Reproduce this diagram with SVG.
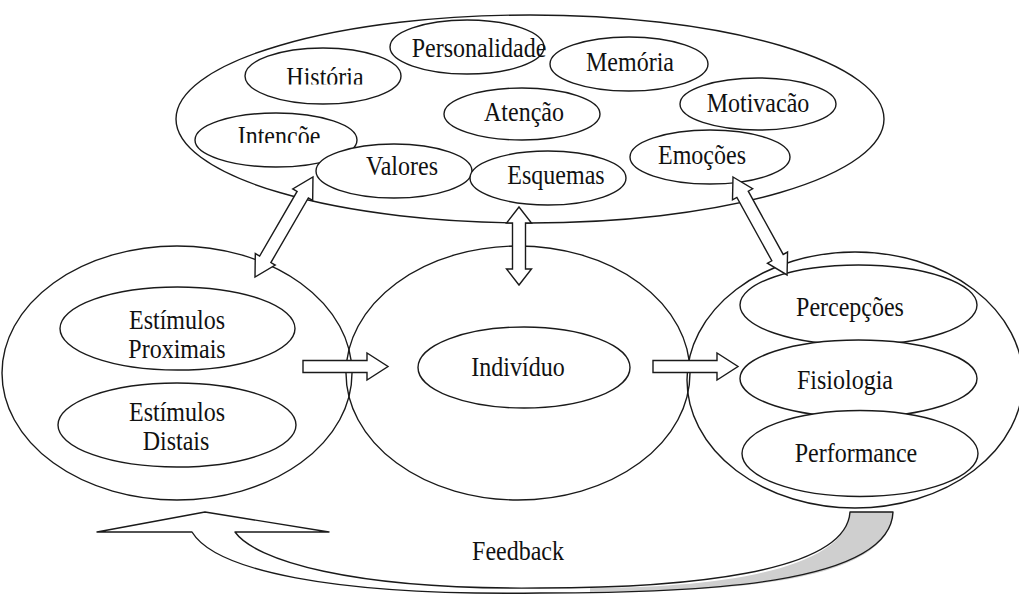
<svg xmlns="http://www.w3.org/2000/svg" width="1019" height="616" viewBox="0 0 1019 616">
  <style>
    .big { fill: none; stroke: #1a1a1a; stroke-width: 1.4; }
    .sub { fill: #ffffff; stroke: #1a1a1a; stroke-width: 1.4; }
    .lbl { font-family: "Liberation Serif", "Times New Roman", serif; font-size: 24px; fill: #111111; text-anchor: middle; }
    .blk { fill: #ffffff; stroke: #1a1a1a; stroke-width: 1.4; stroke-linejoin: miter; }
  </style>
  <defs>
    <clipPath id="clipHist"><rect x="240" y="40" width="170" height="44.5"/></clipPath>
    <clipPath id="clipInt"><rect x="190" y="110" width="170" height="33"/></clipPath>
    <!-- double-headed block arrow, drawn along +x from 0 to its length -->
    <polygon id="dbl-diag" points="0,0 20,-11.5 20,-6.5 93,-6.5 93,-11.5 113,0 93,11.5 93,6.5 20,6.5 20,11.5"/>
  </defs>

  <rect width="1019" height="616" fill="#ffffff"/>

  <!-- cognitive factors cluster -->
  <g id="fatores">
    <ellipse class="big" cx="530" cy="119" rx="354" ry="104"/>
    <g id="historia">
      <ellipse class="sub" cx="323" cy="76" rx="78" ry="28"/>
      <g clip-path="url(#clipHist)">
        <text class="lbl" transform="translate(325,86) scale(1,1.13)">História</text>
      </g>
    </g>
    <g id="personalidade">
      <ellipse class="sub" cx="467" cy="47" rx="77" ry="27"/>
      <text class="lbl" transform="translate(479,57) scale(1,1.13)">Personalidade</text>
    </g>
    <g id="memoria">
      <ellipse class="sub" cx="629" cy="64" rx="79" ry="27"/>
      <text class="lbl" transform="translate(630,71) scale(1,1.13)">Memória</text>
    </g>
    <g id="atencao">
      <ellipse class="sub" cx="522" cy="114" rx="78" ry="26"/>
      <text class="lbl" transform="translate(524,121) scale(1,1.13)">Atenção</text>
    </g>
    <g id="motivacao">
      <ellipse class="sub" cx="758" cy="104" rx="78" ry="26"/>
      <text class="lbl" transform="translate(758,112) scale(1,1.13)">Motivacão</text>
    </g>
    <g id="intencoe">
      <ellipse class="sub" cx="276" cy="140" rx="81" ry="27"/>
      <g clip-path="url(#clipInt)">
        <text class="lbl" transform="translate(279,145) scale(1,1.13)">Intencõe</text>
      </g>
    </g>
    <g id="valores">
      <ellipse class="sub" cx="394" cy="171" rx="78" ry="27"/>
      <text class="lbl" transform="translate(402,175) scale(1,1.13)">Valores</text>
    </g>
    <g id="esquemas">
      <ellipse class="sub" cx="548" cy="178" rx="78" ry="27"/>
      <text class="lbl" transform="translate(556,184) scale(1,1.13)">Esquemas</text>
    </g>
    <g id="emocoes">
      <ellipse class="sub" cx="710" cy="157" rx="80" ry="27"/>
      <text class="lbl" transform="translate(702,164) scale(1,1.13)">Emoções</text>
    </g>
  </g>

  <!-- stimuli -->
  <g id="estimulos">
    <ellipse class="big" cx="177" cy="373" rx="175" ry="127"/>
    <g id="proximais">
      <ellipse class="sub" cx="177.5" cy="328.5" rx="117.5" ry="41.5"/>
      <text class="lbl" transform="translate(177,329) scale(1,1.13)">Estímulos</text>
      <text class="lbl" transform="translate(177,358) scale(1,1.13)">Proximais</text>
    </g>
    <g id="distais">
      <ellipse class="sub" cx="177" cy="425" rx="119" ry="42"/>
      <text class="lbl" transform="translate(177,421) scale(1,1.13)">Estímulos</text>
      <text class="lbl" transform="translate(176,450) scale(1,1.13)">Distais</text>
    </g>
  </g>

  <!-- individual -->
  <g id="individuo">
    <ellipse class="big" cx="518" cy="373" rx="172" ry="127"/>
    <ellipse class="sub" cx="524" cy="367.5" rx="106" ry="40.5"/>
    <text class="lbl" transform="translate(518,376) scale(1,1.13)">Indivíduo</text>
  </g>

  <!-- responses -->
  <g id="respostas">
    <ellipse class="big" cx="855" cy="380" rx="168" ry="128"/>
    <g id="percepcoes">
      <ellipse class="sub" cx="858.5" cy="305" rx="118.5" ry="40"/>
      <text class="lbl" transform="translate(850,316) scale(1,1.13)">Percepções</text>
    </g>
    <g id="fisiologia">
      <ellipse class="sub" cx="858.5" cy="378.5" rx="118.5" ry="38.5"/>
      <text class="lbl" transform="translate(845,389) scale(1,1.13)">Fisiologia</text>
    </g>
    <g id="performance">
      <ellipse class="sub" cx="860" cy="453.5" rx="118" ry="43"/>
      <text class="lbl" transform="translate(856,462) scale(1,1.13)">Performance</text>
    </g>
  </g>

  <!-- connectors -->
  <g id="connectors">
    <!-- two-way links with the cognitive cluster -->
    <use href="#dbl-diag" class="blk" transform="translate(255,277) rotate(-59.9) scale(1.023,1)"/>
    <use href="#dbl-diag" class="blk" transform="translate(733,177) rotate(61.1) scale(0.99,1)"/>
    <polygon class="blk" points="519,207 531.5,223 525.5,223 525.5,269 531.5,269 519,285 506.5,269 512.5,269 512.5,223 506.5,223"/>
    <!-- forward flow -->
    <polygon class="blk" points="303,360.5 367,360.5 367,353 388,366.5 367,380 367,372.5 303,372.5"/>
    <polygon class="blk" points="653,360.5 717,360.5 717,353 738,366.5 717,380 717,372.5 653,372.5"/>
    <!-- curved feedback arrow -->
    <path d="M590,592 C720,591 890,585 893,512 L850,512 C846,574 700,588 590,588 Z" fill="#cfcfcf" stroke="none"/>
    <path d="M192,532 L97,532 L205,512 L329,532 L235,532 C255,560 350,590 540,588 C680,588 846,574 850,512 L893,512 C890,585 700,593 540,593 C330,596 215,570 192,532 Z" fill="none" stroke="#1a1a1a" stroke-width="1.4" stroke-linejoin="round"/>
    <text class="lbl" transform="translate(518,560) scale(1,1.13)">Feedback</text>
  </g>
</svg>
